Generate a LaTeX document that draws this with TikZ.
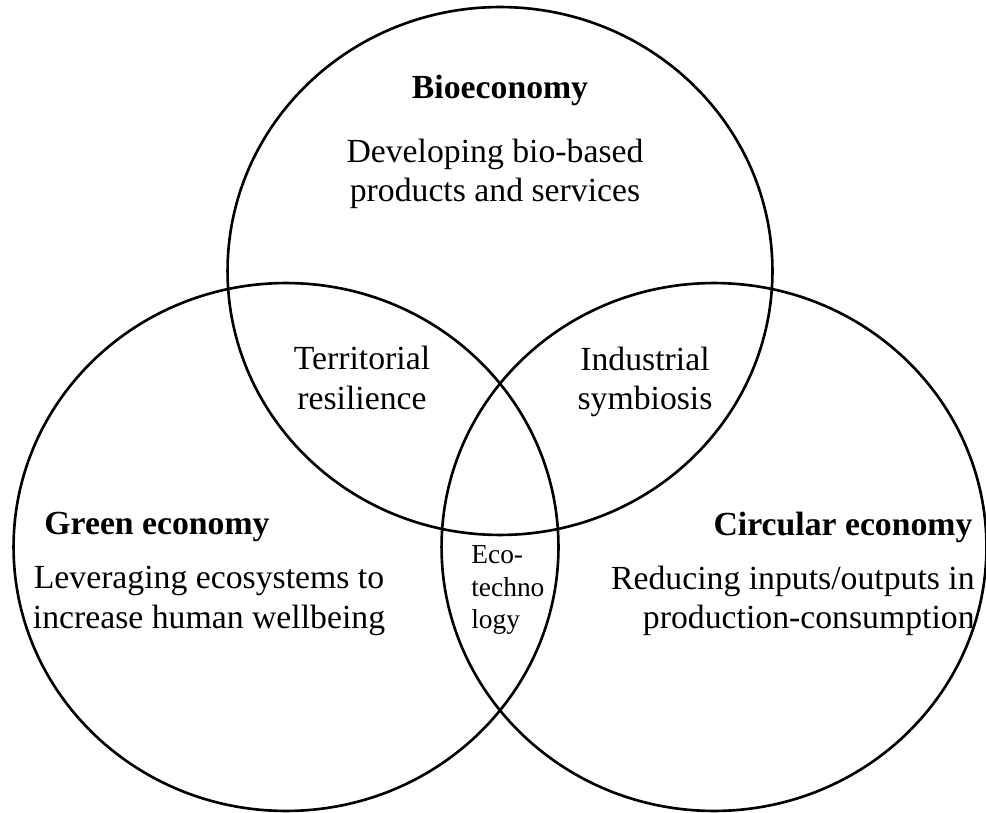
\documentclass[tikz,border=0pt]{standalone}
\usepackage{fontspec}
\setmainfont{Liberation Serif}
\usetikzlibrary{positioning, shapes.geometric}
\tikzset{
    set/.style={ellipse, draw, line width=1.5pt, minimum width=10.9cm, minimum height=10.56cm, inner sep=0pt},
    title/.style={font=\fontsize{19.2}{22}\selectfont\bfseries, inner sep=0pt},
    desc/.style={font=\fontsize{19.2}{22.3}\selectfont, align=center, inner sep=0pt},
    small/.style={font=\fontsize{15.6}{18.4}\selectfont, align=left, inner sep=0pt},
}

\begin{document}
\begin{tikzpicture}[x=0.02cm, y=-0.02cm]
    \useasboundingbox (0,0) rectangle (986,813);

    % the three sets
    \node[set] (bio) at (500,271) {};
    \node[set] (green) at (286,547) {};
    \node[set] (circ) at (714,547) {};

    % titles and descriptions
    \node[title] (biot) at (500,90) {Bioeconomy};
    \node[desc] (biod) at (495,174) {Developing bio-based\\products and services};

    \node[title] (greent) at (157,527) {Green economy};
    \node[desc] (greend) at (209,601) {Leveraging ecosystems to\\increase human wellbeing};

    \node[title] (circt) at (843,527) {Circular economy};
    \node[desc, anchor=east, align=right] (circd) at (975,601) {Reducing inputs/outputs in\\production-consumption};

    % overlaps
    \node[desc] (terr) at (362,378) {Territorial\\resilience};
    \node[desc] (indu) at (645,382) {Industrial\\symbiosis};
    \node[small, anchor=west] (eco) at (471,590) {Eco-\\techno\\logy};
\end{tikzpicture}
\end{document}
